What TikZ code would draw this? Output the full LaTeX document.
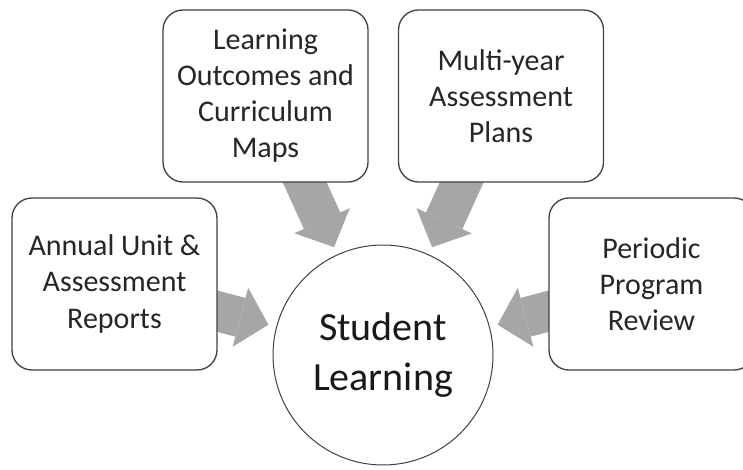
\documentclass[tikz,border=0pt]{standalone}
\usepackage{fontspec}
\setmainfont{Carlito}
\usetikzlibrary{arrows.meta, backgrounds}
\definecolor{feedgrey}{RGB}{166,166,166}
\definecolor{edgegrey}{RGB}{64,64,64}

\begin{document}
\begin{tikzpicture}[x=1pt, y=-1pt,
  itembox/.style={rectangle, rounded corners=20pt, draw=edgegrey, line width=1.3pt, fill=white,
    minimum width=205pt, minimum height=172pt, align=center, text=black!85,
    font=\fontsize{30}{36}\selectfont},
  hub/.style={circle, draw=edgegrey, line width=1pt, fill=white, minimum size=220pt,
    align=center, text=black!90, font=\fontsize{40}{50}\selectfont},
  feed/.style={draw=feedgrey, line width=40pt, shorten >=8pt,
    -{Triangle[length=29pt, width=61pt, line width=0pt]}}]
\clip (0,0) rectangle (743,470);

% centre
\node[hub] (learning) at (383,355) {Student\\Learning};

% boxes round it
\node[itembox] (annual) at (114.5,284) {Annual Unit \&\\Assessment\\Reports};
\node[itembox] (outcomes) at (265.5,96) {Learning\\Outcomes and\\Curriculum\\Maps};
\node[itembox] (plans) at (501,96) {Multi-year\\Assessment\\Plans};
\node[itembox] (review) at (651.5,284) {Periodic\\Program\\Review};

% grey arrows, behind the boxes
\begin{scope}[on background layer]
\draw[feed] (annual.center) -- (learning);
\draw[feed] (outcomes.center) -- (learning);
\draw[feed] (plans.center) -- (learning);
\draw[feed] (review.center) -- (learning);
\end{scope}
\end{tikzpicture}
\end{document}
